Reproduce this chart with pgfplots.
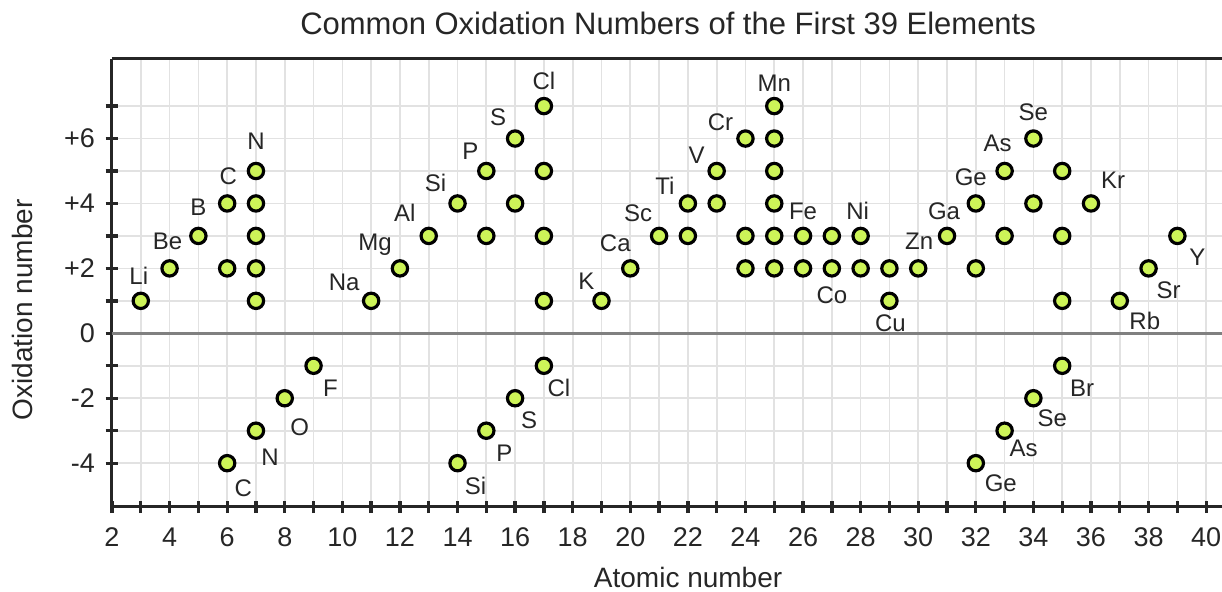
\documentclass[border=0pt]{standalone}
\usepackage{pgfplots}
\pgfplotsset{compat=1.18}
\usepackage{fontspec}
\setmainfont{Liberation Sans}
\definecolor{dotfill}{RGB}{205,244,88}
\definecolor{gridc}{RGB}{226,226,226}
\definecolor{axc}{RGB}{38,38,38}
\definecolor{zeroc}{RGB}{128,128,128}
\newcommand{\lab}[5]{\node[font=\fontsize{14.4}{16}\selectfont, text=axc, inner sep=0pt] at ([xshift=#3*0.6pt,yshift=#4*0.6pt]axis cs:#1,#2) {#5};}
\begin{document}
\begin{tikzpicture}
\begin{axis}[
  scale only axis, width=666pt, height=268.8pt,
  xmin=2, xmax=40.55, ymin=-5.35, ymax=8.45,
  axis x line*=bottom, axis y line*=left,
  xtick={2,4,...,40}, minor xtick={3,5,...,39},
  xticklabels={2,4,6,8,10,12,14,16,18,20,22,24,26,28,30,32,34,36,38,40},
  ytick={-4,-2,...,6}, minor ytick={-3,-1,...,7},
  yticklabels={-4,-2,0,+2,+4,+6},
  grid=both,
  major grid style={gridc, line width=1pt},
  minor grid style={gridc, line width=1pt},
  tick align=center, major tick length=7.5pt, minor tick length=7.5pt,
  xtick style={draw=axc, line width=2pt},
  ytick style={draw=axc, line width=2pt},
  axis line style={axc, line width=1.8pt},
  ticklabel style={font=\fontsize{16.2}{18}\selectfont, text=axc},
  xticklabel style={anchor=base, yshift=-20pt},
  yticklabel style={anchor=east, xshift=-3pt},
  xlabel={Atomic number},
  ylabel={Oxidation number},
  xlabel style={at={(axis description cs:0.519,-0.1786)}, anchor=base, font=\fontsize{16.8}{20}\selectfont, text=axc},
  ylabel style={at={(axis description cs:-0.0802,0.44)}, anchor=center, rotate=0, font=\fontsize{16.8}{20}\selectfont, text=axc},
  clip=false,
]
\addplot[zeroc, line width=1.6pt] coordinates {(2,0) (40.55,0)};
\addplot[only marks, mark=*, mark size=4.6pt, mark options={fill=dotfill, draw=black, line width=1.9pt}] coordinates {
(3,1) (4,2) (5,3)
(6,4) (6,2) (6,-4)
(7,5) (7,4) (7,3) (7,2) (7,1) (7,-3)
(8,-2) (9,-1)
(11,1) (12,2) (13,3)
(14,4) (14,-4)
(15,5) (15,3) (15,-3)
(16,6) (16,4) (16,-2)
(17,7) (17,5) (17,3) (17,1) (17,-1)
(19,1) (20,2) (21,3)
(22,4) (22,3)
(23,5) (23,4)
(24,6) (24,3) (24,2)
(25,7) (25,6) (25,5) (25,4) (25,3) (25,2)
(26,3) (26,2)
(27,3) (27,2)
(28,3) (28,2)
(29,2) (29,1)
(30,2) (31,3)
(32,4) (32,2) (32,-4)
(33,5) (33,3) (33,-3)
(34,6) (34,4) (34,-2)
(35,5) (35,3) (35,1) (35,-1)
(36,4) (37,1) (38,2) (39,3)
};
\draw[axc, line width=1.8pt] (rel axis cs:0,1) -- (rel axis cs:1,1);
\coordinate (SW) at (rel axis cs:0,0);
\coordinate (NE) at (rel axis cs:1,1);
\lab{3}{1}{-2}{25}{Li}
\lab{4}{2}{-2}{27}{Be}
\lab{5}{3}{0}{29}{B}
\lab{6}{4}{1}{27}{C}
\lab{7}{5}{0}{30}{N}
\lab{11}{1}{-27}{18}{Na}
\lab{12}{2}{-25}{24}{Mg}
\lab{13}{3}{-24}{23}{Al}
\lab{14}{4}{-22}{21}{Si}
\lab{15}{5}{-16}{20}{P}
\lab{16}{6}{-17}{21}{S}
\lab{17}{7}{0}{25}{Cl}
\lab{19}{1}{-15}{20}{K}
\lab{20}{2}{-15}{25}{Ca}
\lab{21}{3}{-21}{23}{Sc}
\lab{22}{4}{-23}{18}{Ti}
\lab{23}{5}{-20}{16}{V}
\lab{24}{6}{-25}{16}{Cr}
\lab{25}{7}{0}{23}{Mn}
\lab{26}{3}{0}{25}{Fe}
\lab{27}{2}{0}{-27}{Co}
\lab{28}{3}{-3}{25}{Ni}
\lab{29}{1}{1}{-22}{Cu}
\lab{30}{2}{1}{27}{Zn}
\lab{31}{3}{-3}{25}{Ga}
\lab{32}{4}{-5}{26}{Ge}
\lab{33}{5}{-7}{28}{As}
\lab{34}{6}{0}{26}{Se}
\lab{36}{4}{22}{23}{Kr}
\lab{37}{1}{25}{-20}{Rb}
\lab{38}{2}{20}{-22}{Sr}
\lab{39}{3}{20}{-21}{Y}
\lab{6}{-4}{16}{-25}{C}
\lab{7}{-3}{14}{-27}{N}
\lab{8}{-2}{15}{-29}{O}
\lab{9}{-1}{17}{-22}{F}
\lab{14}{-4}{18}{-23}{Si}
\lab{15}{-3}{18}{-23}{P}
\lab{16}{-2}{14}{-22}{S}
\lab{17}{-1}{15}{-22}{Cl}
\lab{32}{-4}{25}{-20}{Ge}
\lab{33}{-3}{19}{-18}{As}
\lab{34}{-2}{19}{-20}{Se}
\lab{35}{-1}{20}{-22}{Br}
\node[font=\fontsize{18.6}{22}\selectfont, text=axc, anchor=base] at (axis description cs:0.501,1.0536) {Common Oxidation Numbers of the First 39 Elements};
\end{axis}
\pgfresetboundingbox
\path ([shift={(-67.2pt,-51pt)}]SW) rectangle ([shift={(0pt,35.4pt)}]NE);
\end{tikzpicture}
\end{document}
